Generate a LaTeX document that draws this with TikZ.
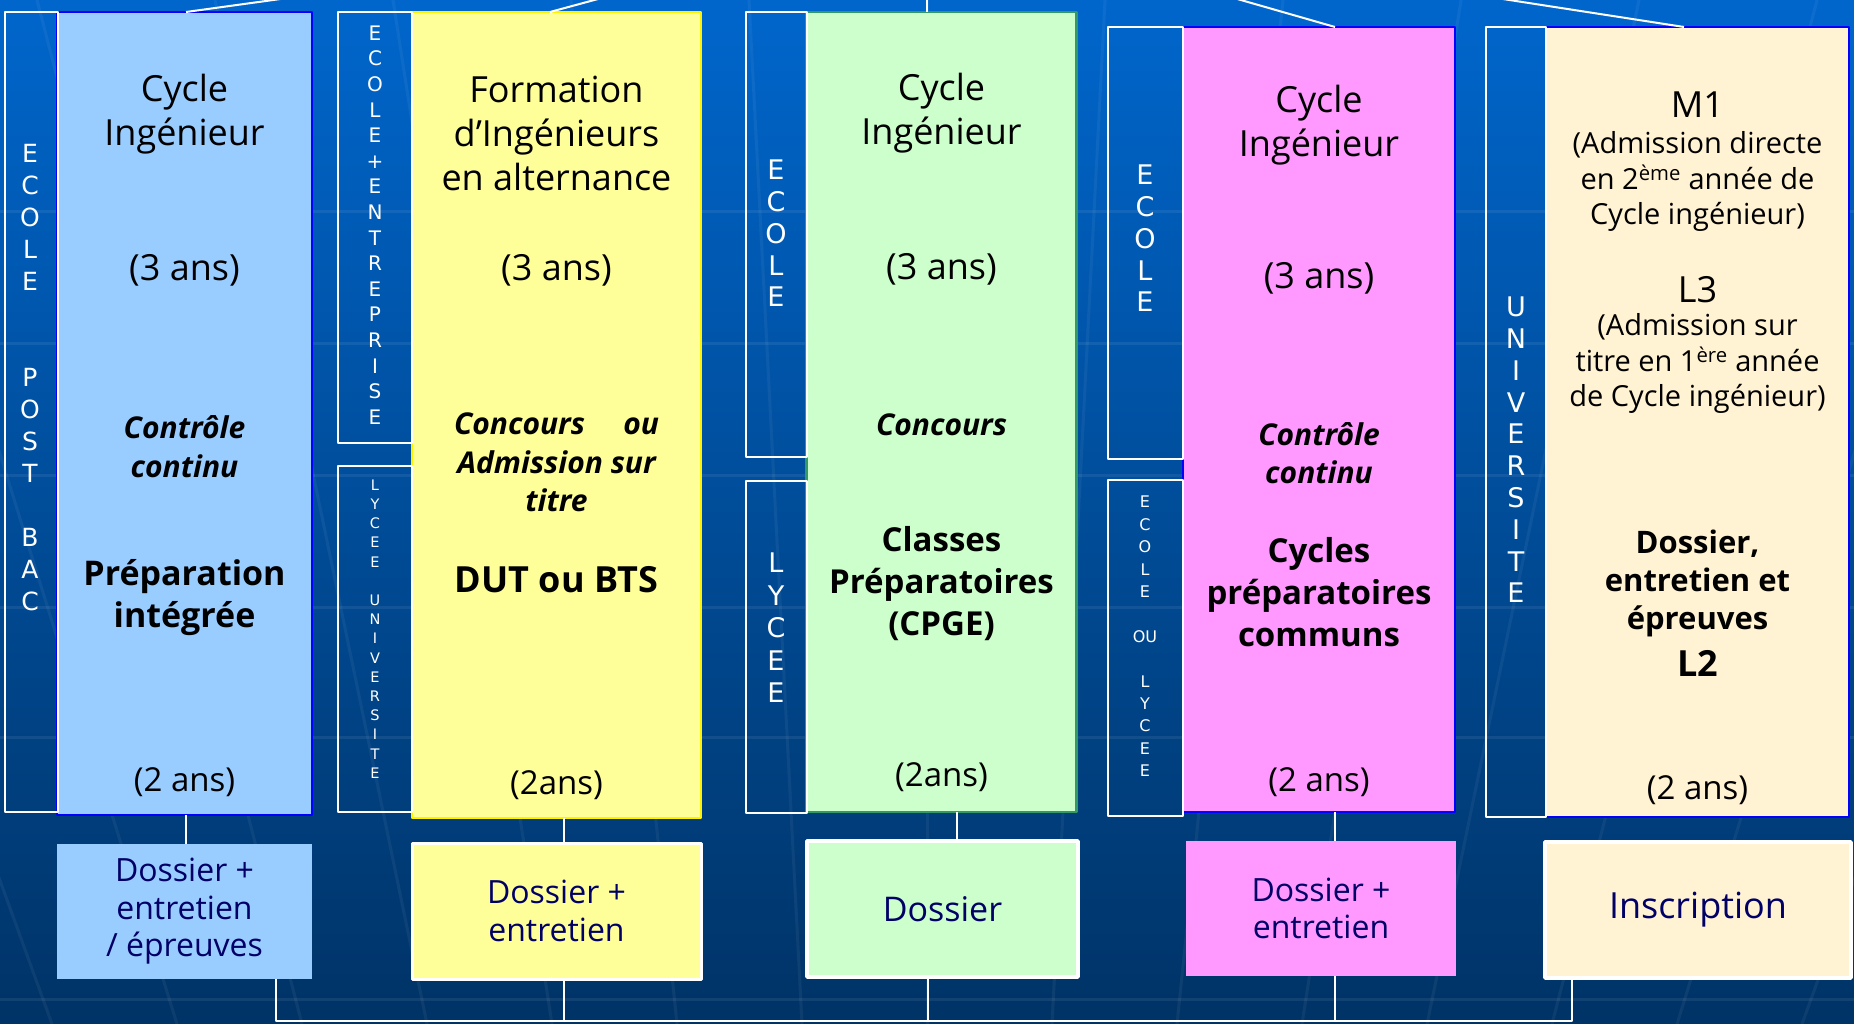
\documentclass[tikz,border=0pt]{standalone}
\usepackage{fontspec}
\setmainfont{Open Sans}
\newfontfamily\sidefont{DejaVu Sans}
\definecolor{bgtop}{HTML}{0066CC}
\definecolor{bgbot}{HTML}{003366}
\definecolor{bleuclair}{HTML}{99CCFF}
\definecolor{jaune}{HTML}{FFFF99}
\definecolor{vert}{HTML}{CCFFCC}
\definecolor{vertfonce}{HTML}{339966}
\definecolor{rose}{HTML}{FF99FF}
\definecolor{creme}{HTML}{FFF3D3}
\definecolor{marine}{HTML}{000066}
\begin{document}
\begin{tikzpicture}[x=1pt,y=-1pt, line join=round,
  fond/.style={white, opacity=0.07, line width=3pt},
  lien/.style={white, line width=2pt},
  colonne/.style={inner sep=0pt, outer sep=0pt, line width=2.5pt},
  cote/.style={draw=white, line width=2pt, inner sep=0pt, outer sep=0pt},
  acces/.style={inner sep=0pt, outer sep=0pt, text=marine, align=center, font=\fontsize{32}{37.5}\selectfont},
  lettres/.style={text=white, align=center, inner sep=0pt},
  txt/.style={align=center, inner sep=0pt},
  titre/.style={txt, font=\fontsize{36}{44}\selectfont},
  duree/.style={txt, font=\fontsize{33}{40}\selectfont},
  mode/.style={txt, font=\fontsize{30}{38.5}\selectfont\bfseries\itshape},
  prepa/.style={txt, font=\fontsize{33}{42}\selectfont\bfseries},
  detail/.style={txt, font=\fontsize{29}{35.5}\selectfont}]
\useasboundingbox (0,0) rectangle (1854,1024);
\clip (0,0) rectangle (1854,1024);
\shade[top color=bgtop, bottom color=bgbot] (0,0) rectangle (1854,1024);
\foreach \y in {212,343,475,607,737,999} \draw[fond] (0,\y) -- (1854,\y);
\foreach \k in {-8,...,8} \draw[fond, opacity=0.05] ({927+125*\k},1024) -- ({927+178*\k},0);

\node[colonne, fill=bleuclair, draw=blue, minimum width=255pt, minimum height=803pt] (m1) at (184.5,413.5) {};
\node[colonne, fill=jaune, draw=yellow, minimum width=289pt, minimum height=806pt] (m2) at (556.5,415) {};
\node[colonne, fill=vert, draw=vertfonce, minimum width=270pt, minimum height=800pt] (m3) at (941.5,412) {};
\node[colonne, fill=rose, draw=blue, minimum width=272pt, minimum height=785pt] (m4) at (1319,419.5) {};
\node[colonne, fill=creme, draw=blue, minimum width=303pt, minimum height=790pt] (m5) at (1697.5,422) {};

\node[cote, minimum width=53pt, minimum height=800pt] (s1) at (31,412) {};
\node[cote, minimum width=74.5pt, minimum height=431pt] (s2) at (374.75,227.5) {};
\node[cote, minimum width=74.5pt, minimum height=346pt] (s2b) at (374.75,639) {};
\node[cote, minimum width=60.5pt, minimum height=445pt] (s3) at (776.25,234.5) {};
\node[cote, minimum width=60.5pt, minimum height=332pt] (s3b) at (776.25,647) {};
\node[cote, minimum width=75pt, minimum height=432pt] (s4) at (1145.5,243) {};
\node[cote, minimum width=75pt, minimum height=336pt] (s4b) at (1145.5,648) {};
\node[cote, minimum width=60pt, minimum height=790pt] (s5) at (1516,422) {};

\node[lettres, font=\sidefont\fontsize{25}{32}\selectfont] (l1) at (30,377.5) {E\\C\\O\\L\\E\\[64pt]P\\O\\S\\T\\[32pt]B\\A\\C};
\node[lettres, font=\sidefont\fontsize{20}{25.6}\selectfont] (l2) at (375,225) {E\\C\\O\\L\\E\\+\\E\\N\\T\\R\\E\\P\\R\\I\\S\\E};
\node[lettres, font=\sidefont\fontsize{14.5}{19.2}\selectfont] (l2b) at (375,629) {L\\Y\\C\\E\\E\\[19.2pt]U\\N\\I\\V\\E\\R\\S\\I\\T\\E};
\node[lettres, font=\sidefont\fontsize{27}{31.75}\selectfont] (l3) at (776,233.5) {E\\C\\O\\L\\E};
\node[lettres, font=\sidefont\fontsize{27}{32.5}\selectfont] (l3b) at (776,628) {L\\Y\\C\\E\\E};
\node[lettres, font=\sidefont\fontsize{27}{31.75}\selectfont] (l4) at (1145,238.5) {E\\C\\O\\L\\E};
\node[lettres, font=\sidefont\fontsize{16}{22.4}\selectfont] (l4b) at (1145,636.5) {E\\C\\O\\L\\E\\[22.4pt]OU\\[22.4pt]L\\Y\\C\\E\\E};
\node[lettres, font=\sidefont\fontsize{27}{31.8}\selectfont] (l5) at (1516,450) {U\\N\\I\\V\\E\\R\\S\\I\\T\\E};

\node[titre] (c1) at (184.5,114) {Cycle\\Ingénieur};
\node[titre] (a1) at (184.5,270) {(3 ans)};
\node[mode] (e1) at (184.5,446.5) {Contrôle\\continu};
\node[prepa, font=\fontsize{34}{42}\selectfont\bfseries] (p1) at (184.5,598) {Préparation\\intégrée};
\node[duree] (d1) at (184.5,782) {(2 ans)};

\node[titre] (c2) at (556.5,133) {Formation\\d’Ingénieurs\\en alternance};
\node[titre] (a2) at (556.5,270) {(3 ans)};
\node[mode] (e2) at (556.5,462.5) {\makebox[205pt][s]{Concours ou}\\Admission sur\\titre};
\node[prepa, font=\fontsize{36}{42}\selectfont\bfseries] (p2) at (556.5,580) {DUT ou BTS};
\node[duree] (d2) at (556.5,785) {(2ans)};

\node[titre] (c3) at (941.5,113) {Cycle\\Ingénieur};
\node[titre] (a3) at (941.5,269.5) {(3 ans)};
\node[mode] (e3) at (941.5,424.5) {Concours};
\node[prepa] (p3) at (941.5,583.5) {Classes\\Préparatoires\\(CPGE)};
\node[duree] (d3) at (941.5,777.5) {(2ans)};

\node[titre] (c4) at (1319,125.5) {Cycle\\Ingénieur};
\node[titre] (a4) at (1319,278) {(3 ans)};
\node[mode] (e4) at (1319,453) {Contrôle\\continu};
\node[prepa] (p4) at (1319,592) {Cycles\\préparatoires\\communs};
\node[duree] (d4) at (1319,782.5) {(2 ans)};

\node[titre] (c5) at (1697.5,105) {M1};
\node[detail] (a5) at (1697.5,181.5) {(Admission directe\\en 2\textsuperscript{ème} année de\\Cycle ingénieur)};
\node[titre] (c5b) at (1697.5,290) {L3};
\node[detail] (a5b) at (1697.5,363.5) {(Admission sur\\titre en 1\textsuperscript{ère} année\\de Cycle ingénieur)};
\node[prepa, font=\fontsize{31}{38}\selectfont\bfseries] (p5) at (1697.5,583) {Dossier,\\entretien et\\épreuves};
\node[prepa, font=\fontsize{36}{42}\selectfont\bfseries] (p5b) at (1697.5,663.5) {L2};
\node[duree] (d5) at (1697.5,790) {(2 ans)};

\node[acces, fill=bleuclair, minimum width=255pt, minimum height=135pt] (b1) at (184.5,911.5) {Dossier +\\entretien\\/ épreuves};
\node[acces, fill=jaune, draw=white, line width=3pt, minimum width=289pt, minimum height=136pt] (b2) at (556.5,911) {Dossier +\\entretien};
\node[acces, fill=vert, draw=white, line width=3.5pt, minimum width=271pt, minimum height=136pt, font=\fontsize{34}{40}\selectfont] (b3) at (942.5,909) {Dossier};
\node[acces, fill=rose, minimum width=270pt, minimum height=135pt] (b4) at (1321,908.5) {Dossier +\\entretien};
\node[acces, fill=creme, draw=white, line width=3.5pt, minimum width=306pt, minimum height=136pt, font=\fontsize{36}{40}\selectfont] (b5) at (1698,910) {Inscription};

\coordinate (haut) at (927,-90);
\coordinate (bas) at (927,1021);
\draw[lien] (haut) -- ([xshift=1.5pt]m1.north);
\draw[lien] (haut) -- ([xshift=-6.5pt]m2.north);
\draw[lien] (haut) -- ([xshift=-14.5pt]m3.north);
\draw[lien] (haut) -- ([xshift=16pt]m4.north);
\draw[lien] (haut) -- ([xshift=-13.5pt]m5.north);
\draw[lien] ([xshift=1.5pt]m1.south) -- ([xshift=1.5pt]b1.north);
\draw[lien] ([xshift=7.5pt]m2.south) -- ([xshift=7.5pt]b2.north);
\draw[lien] ([xshift=15.5pt]m3.south) -- ([xshift=14.5pt]b3.north);
\draw[lien] ([xshift=16pt]m4.south) -- ([xshift=14pt]b4.north);
\coordinate (q1) at ([xshift=91.5pt]b1.south);
\coordinate (q2) at ([xshift=7.5pt]b2.south);
\coordinate (q3) at ([xshift=-14.5pt]b3.south);
\coordinate (q4) at ([xshift=14pt]b4.south);
\coordinate (q5) at ([xshift=-126pt]b5.south);
\draw[lien] (q1) |- (q5 |- bas) -- (q5);
\foreach \q in {q2,q3,q4} \draw[lien] (\q) -- (\q |- bas);
\end{tikzpicture}
\end{document}
